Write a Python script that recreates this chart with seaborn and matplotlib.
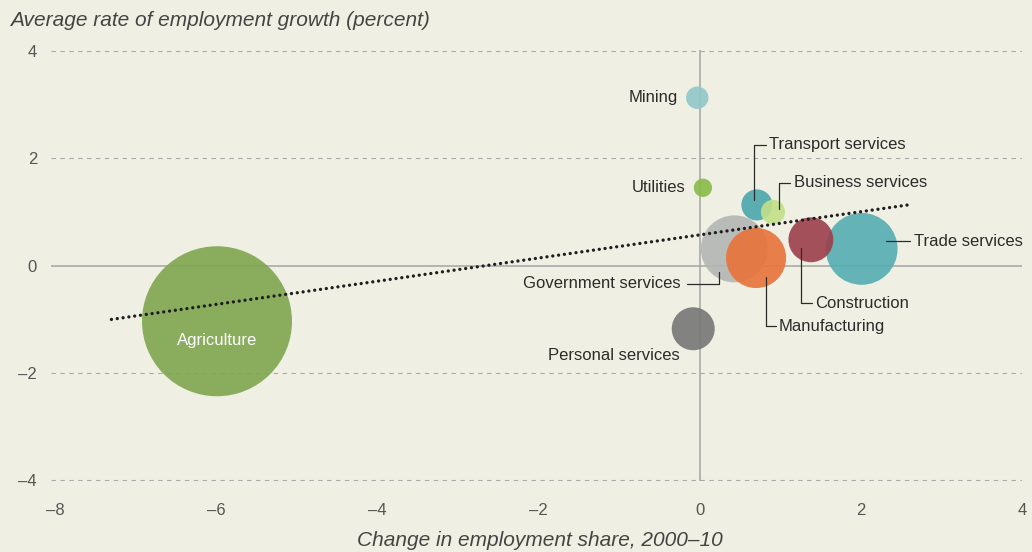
import numpy as np
import pandas as pd
import seaborn as sns
import matplotlib.pyplot as plt

# sectors, change in employment share 2000-10, avg employment growth, share of employment (bubble)
sectors = ["Agriculture", "Mining", "Utilities", "Transport services", "Business services",
           "Trade services", "Construction", "Government services", "Manufacturing",
           "Personal services"]
share_change = [-5.99, -0.03, 0.04, 0.71, 0.91, 2.01, 1.38, 0.43, 0.70, -0.08]
emp_growth = [-1.04, 3.13, 1.45, 1.13, 1.00, 0.31, 0.48, 0.31, 0.14, -1.18]
emp_share = [53.6, 1.2, 0.8, 2.3, 1.4, 12.3, 4.8, 10.7, 8.6, 4.4]

colors = ["#7ea64f", "#8fc7c8", "#89ba48", "#4aa6ab", "#c3e08a",
          "#55adb1", "#9c3f4c", "#b4b6b4", "#e8733a", "#767676"]

x_ticks = [-8, -6, -4, -2, 0, 2, 4]
y_ticks = [-4, -2, 0, 2, 4]

df = pd.DataFrame({"sector": sectors, "x": share_change, "y": emp_growth, "share": emp_share})

BG = "#eff0e3"
TXT = "#2b2b2b"

sns.set_theme(style="white")
plt.rcParams["font.family"] = ["Liberation Sans", "DejaVu Sans"]

fig = plt.figure(figsize=(10.32, 5.52), dpi=100, facecolor=BG)
ax = fig.add_axes([51 / 1032, 71 / 552, 971 / 1032, 431 / 552])
ax.set_facecolor(BG)

# grid and zero lines
for yv in y_ticks:
    if yv == 0:
        continue
    ax.axhline(yv, color="#aaaaaa", lw=0.8, ls=(0, (4, 4)), zorder=0)
ax.axhline(0, color="#aaaaaa", lw=1.2, zorder=0)
ax.axvline(0, color="#aaaaaa", lw=1.2, zorder=0)

smax = max(emp_share)
sns.scatterplot(data=df, x="x", y="y", hue="sector", palette=dict(zip(sectors, colors)),
                size="share", sizes=(0, 11664), size_norm=(0, smax),
                alpha=0.9, linewidth=0, legend=False, ax=ax, zorder=2)

# OLS trend line across the sectors
slope, icpt = np.polyfit(share_change, emp_growth, 1)
tx = np.array([-7.30, 2.58])
ax.plot(tx, icpt + slope * tx, color="#1e1e1e", lw=2.4, ls=(0, (0.01, 1.75)),
        dash_capstyle="round", zorder=3)

# leader lines + labels
lead_kw = dict(color=TXT, lw=0.9, zorder=4)
lab_kw = dict(color=TXT, fontsize=12, va="center", zorder=5)

ax.plot([0.674, 0.674, 0.823], [1.222, 2.248, 2.248], **lead_kw)
ax.text(0.86, 2.248, "Transport services", ha="left", **lab_kw)
ax.plot([0.984, 0.984, 1.121], [1.054, 1.539, 1.539], **lead_kw)
ax.text(1.17, 1.539, "Business services", ha="left", **lab_kw)
ax.plot([2.312, 2.61], [0.457, 0.457], **lead_kw)
ax.text(2.66, 0.457, "Trade services", ha="left", **lab_kw)
ax.plot([1.257, 1.257, 1.394], [0.326, -0.70, -0.70], **lead_kw)
ax.text(1.431, -0.70, "Construction", ha="left", **lab_kw)
ax.plot([0.823, 0.823, 0.947], [-0.215, -1.129, -1.129], **lead_kw)
ax.text(0.984, -1.129, "Manufacturing", ha="left", **lab_kw)
ax.plot([0.240, 0.240, -0.158], [-0.121, -0.345, -0.345], **lead_kw)
ax.text(-0.232, -0.345, "Government services", ha="right", **lab_kw)
ax.text(-1.063, -1.688, "Personal services", ha="center", **lab_kw)
ax.text(-0.269, 3.125, "Mining", ha="right", **lab_kw)
ax.text(-0.17, 1.464, "Utilities", ha="right", **lab_kw)
ax.text(-5.99, -1.39, "Agriculture", ha="center", va="center", color="white",
        fontsize=12, zorder=5)

ax.set_xlim(-8.05, 4.0)
ax.set_ylim(-4.02, 4.02)
ax.set_xticks(x_ticks)
ax.set_yticks(y_ticks)
ax.set_xticklabels([str(v).replace("-", "\u2013") for v in x_ticks])
ax.set_yticklabels([str(v).replace("-", "\u2013") for v in y_ticks])
ax.tick_params(axis="x", length=0, pad=16, labelsize=12, labelcolor="#555555")
ax.tick_params(axis="y", length=0, pad=10, labelsize=12, labelcolor="#555555")
for sp in ax.spines.values():
    sp.set_visible(False)

ax.set_xlabel("")
ax.set_ylabel("")
fig.text(540 / 1032, 1 - 540 / 552, "Change in employment share, 2000\u201310",
         ha="center", va="center", style="italic", fontsize=15, color="#444444")
fig.text(10 / 1032, 1 - 20 / 552, "Average rate of employment growth (percent)",
         ha="left", va="center", style="italic", fontsize=15, color="#444444")

fig.savefig("out.png", dpi=100, facecolor=BG)
